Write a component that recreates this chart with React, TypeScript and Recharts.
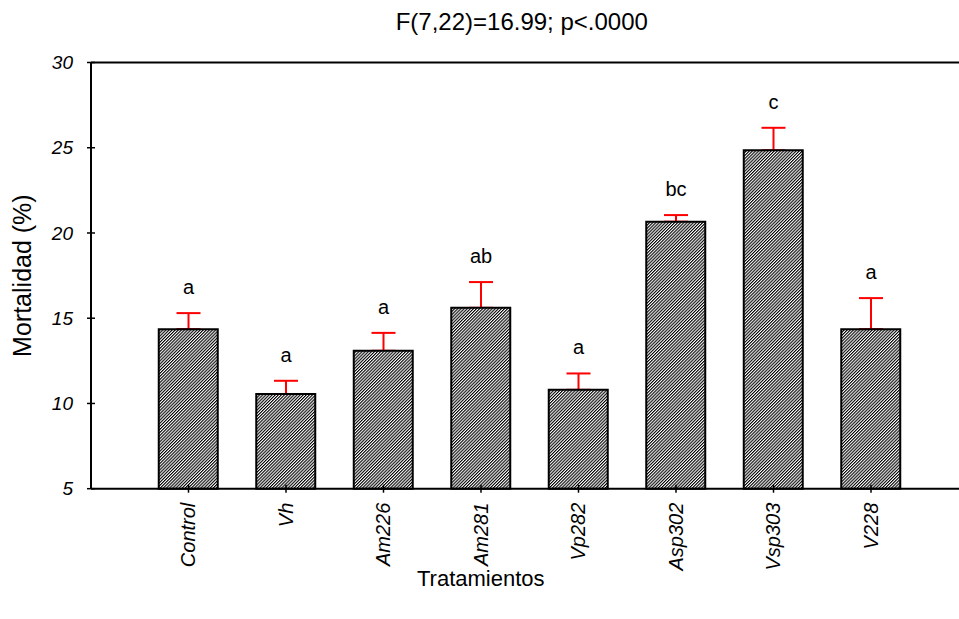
import React from 'react';
import {
  ComposedChart,
  Bar,
  Line,
  ErrorBar,
  XAxis,
  YAxis,
  LabelList,
  ReferenceLine,
} from 'recharts';

const treatments = ['Control', 'Vh', 'Am226', 'Am281', 'Vp282', 'Asp302', 'Vsp303', 'V228'];
const mortality = [14.36, 10.55, 13.09, 15.61, 10.8, 20.66, 24.85, 14.36];
const stdErrors = [0.94, 0.78, 1.05, 1.51, 0.96, 0.39, 1.32, 1.82];
const groups = ['a', 'a', 'a', 'ab', 'a', 'bc', 'c', 'a'];
const yTicks = [5, 10, 15, 20, 25, 30];

const data = treatments.map((name, i) => ({
  name,
  mean: mortality[i],
  err: [0, stdErrors[i]],
  top: mortality[i] + stdErrors[i],
  group: groups[i],
}));

const FONT = '"Liberation Sans", Arial, sans-serif';

const YTick = (props: any) => {
  const { x, y, payload } = props;
  return (
    <g>
      <line x1={x - 4} x2={x + 4} y1={y} y2={y} stroke="#000" strokeWidth={1.5} />
      <text x={x - 18} y={y} dy="0.35em" textAnchor="end" fontFamily={FONT} fontSize={19} fontStyle="italic" fill="#000">
        {payload.value}
      </text>
    </g>
  );
};

const XTick = (props: any) => {
  const { x, y, payload } = props;
  const ty = y + 14;
  return (
    <g>
      <line x1={x} x2={x} y1={y - 4} y2={y + 4} stroke="#000" strokeWidth={1.5} />
      <text
        x={x}
        y={ty}
        dy="0.35em"
        textAnchor="end"
        transform={`rotate(-90, ${x}, ${ty})`}
        fontFamily={FONT}
        fontSize={20}
        fontStyle="italic"
        fill="#000"
      >
        {payload.value}
      </text>
    </g>
  );
};

export default function App() {
  return (
    <div style={{ position: 'absolute', left: 8, top: 8, width: 951, height: 600, overflow: 'hidden' }}>
      <ComposedChart
        width={1025}
        height={600}
        data={data}
        margin={{ top: 54.5, right: 24.5, bottom: 19.3, left: 0 }}
      >
        <defs>
          <pattern id="hatch" patternUnits="userSpaceOnUse" width={2.2} height={2.2} patternTransform="rotate(45)">
            <rect width={2.2} height={2.2} fill="#fff" />
            <rect width={1.1} height={2.2} fill="#000" />
          </pattern>
        </defs>
        <XAxis
          dataKey="name"
          padding={{ left: 48.75, right: 88.75 }}
          height={100}
          tickSize={0}
          tickMargin={0}
          tick={<XTick />}
          axisLine={{ stroke: '#000', strokeWidth: 2 }}
          interval={0}
          label={{ value: 'Tratamientos', position: 'insideBottom', offset: 3, dx: -69, fontFamily: FONT, fontSize: 22, fill: '#000' }}
        />
        <YAxis
          domain={[5, 30]}
          ticks={yTicks}
          width={83}
          tickSize={0}
          tickMargin={0}
          tick={<YTick />}
          axisLine={{ stroke: '#000', strokeWidth: 2 }}
          label={{
            value: 'Mortalidad (%)',
            angle: -90,
            position: 'insideLeft',
            offset: 14,
            fontFamily: FONT,
            fontSize: 25,
            fill: '#000',
            style: { textAnchor: 'middle' },
          }}
        />
        <ReferenceLine
          y={30}
          stroke="#000"
          strokeWidth={2}
          label={{ value: 'F(7,22)=16.99; p<.0000', position: 'top', offset: 32.5, dx: -28, fontFamily: FONT, fontSize: 24, fill: '#000' }}
        />
        <Line dataKey="mean" stroke="none" dot={false} activeDot={false} isAnimationActive={false} zIndex={250}>
          <ErrorBar dataKey="err" direction="y" width={12} stroke="#ff0000" strokeWidth={2} zIndex={250} />
        </Line>
        <Bar dataKey="mean" barSize={59} fill="url(#hatch)" stroke="#000" strokeWidth={2} isAnimationActive={false} />
        <Line dataKey="top" stroke="none" dot={false} activeDot={false} isAnimationActive={false}>
          <LabelList dataKey="group" position="top" offset={19} fontFamily={FONT} fontSize={20} fill="#000" />
        </Line>
      </ComposedChart>
    </div>
  );
}
